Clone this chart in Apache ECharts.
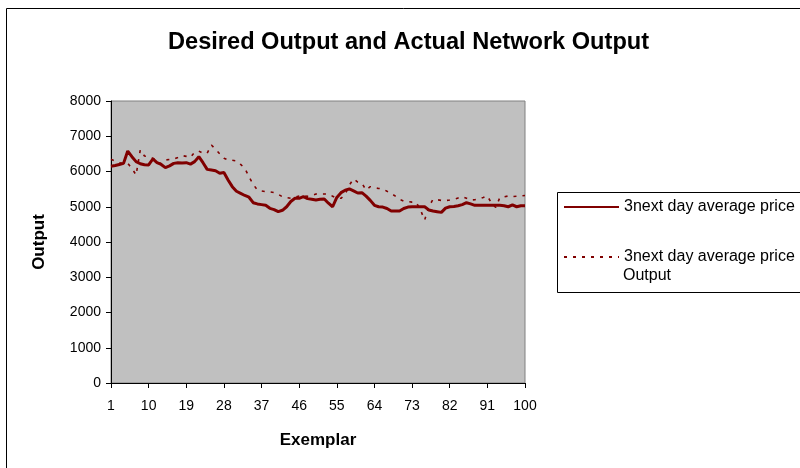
<!DOCTYPE html>
<html>
<head>
<meta charset="utf-8">
<script src="https://cdn.jsdelivr.net/npm/echarts@6/dist/echarts.min.js"></script>
<style>
  html, body { margin: 0; padding: 0; background: #fff; }
  #chart { width: 800px; height: 468px; }
</style>
</head>
<body>
<div id="chart"></div>
<script>
// exemplar numbers 1..100
let exemplars = []
for (let i = 1; i <= 100; i++) exemplars.push(String(i))

// desired output (solid)
let desired = [
  6150, 6170, 6200, 6230, 6580, 6420, 6280, 6220, 6190, 6185,
  6355, 6250, 6200, 6110, 6160, 6230, 6250, 6240, 6250, 6210,
  6280, 6420, 6250, 6060, 6040, 6020, 5950, 5970, 5760, 5570,
  5440, 5380, 5320, 5270, 5115, 5080, 5060, 5040, 4955, 4920,
  4860, 4900, 5000, 5150, 5240, 5240, 5285, 5230, 5210, 5190,
  5210, 5220, 5100, 5000, 5265, 5400, 5470, 5505, 5450, 5390,
  5400, 5300, 5180, 5040, 5000, 4990, 4950, 4880, 4880, 4880,
  4950, 4990, 5000, 5000, 5000, 5000, 4910, 4880, 4860, 4840,
  4960, 5000, 5010, 5030, 5060, 5115, 5080, 5040, 5040, 5040,
  5040, 5040, 5040, 5040, 5030, 5000, 5050, 5000, 5030, 5030
]

// actual network output (dotted)
let actual = [
  6345, 6300, 6250, 6230, 6230, 6090, 5900, 6610, 6440, 6420,
  6375, 6300, 6215, 6325, 6340, 6355, 6400, 6450, 6430, 6400,
  6545, 6580, 6515, 6520, 6750, 6630, 6500, 6375, 6325, 6320,
  6300, 6200, 6090, 5850, 5635, 5475, 5450, 5430, 5420, 5400,
  5350, 5285, 5260, 5240, 5270, 5305, 5310, 5300, 5320, 5360,
  5360, 5360, 5360, 5300, 5240, 5240, 5350, 5615, 5790, 5700,
  5665, 5475, 5570, 5540, 5520, 5505, 5440, 5380, 5300, 5210,
  5160, 5145, 5130, 5125, 4910, 4625, 5000, 5210, 5200, 5180,
  5175, 5190, 5210, 5250, 5285, 5240, 5190, 5200, 5220, 5260,
  5305, 5100, 4980, 5265, 5280, 5305, 5290, 5300, 5305, 5320
]

let seriesNames = ['3next day average price', '3next day average price Output']

let chart = echarts.init(document.getElementById('chart'))
let font = 'Arial, "Liberation Sans", sans-serif'
let option = {
  animation: false,
  textStyle: { fontFamily: font },
  title: {
    text: 'Desired Output and Actual Network Output',
    left: 163,
    top: 25,
    textStyle: { fontSize: 23.6, fontWeight: 'bold', color: '#000', fontFamily: font }
  },
  graphic: [
    // outer chart frame (runs off the page like the original)
    { type: 'rect', shape: { x: 6.5, y: 8.5, width: 900, height: 600 }, style: { fill: 'none', stroke: '#000', lineWidth: 1 }, silent: true },
    // legend frame
    { type: 'rect', shape: { x: 557.5, y: 192.5, width: 300, height: 100 }, style: { fill: '#fff', stroke: '#000', lineWidth: 1 }, z: 1, silent: true },
    { type: 'text', left: 623, top: 268, z: 10, style: { text: 'Output', fontSize: 16, fontFamily: font, fill: '#000' } }
  ],
  legend: [
    {
      data: [seriesNames[0]],
      left: 558, top: 194,
      itemWidth: 55, itemHeight: 14, itemGap: 0,
      itemStyle: { opacity: 0 },
      textStyle: { fontSize: 16, color: '#000', fontFamily: font },
      z: 5
    },
    {
      data: [seriesNames[1]],
      left: 558, top: 244,
      itemWidth: 55, itemHeight: 14,
      itemStyle: { opacity: 0 },
      formatter: () => '3next day average price',
      textStyle: { fontSize: 16, color: '#000', fontFamily: font },
      z: 5
    }
  ],
  grid: {
    left: 111, top: 101, right: 275, bottom: 85,
    show: true, backgroundColor: '#C0C0C0', borderColor: '#808080', borderWidth: 1
  },
  xAxis: {
    type: 'category',
    data: exemplars,
    boundaryGap: false,
    name: 'Exemplar',
    nameLocation: 'middle',
    nameGap: 49,
    nameTextStyle: { fontSize: 17, fontWeight: 'bold', color: '#000', fontFamily: font, letterSpacing: 2 },
    axisLine: { lineStyle: { color: '#000', width: 1 } },
    axisTick: { interval: 8, length: 5, lineStyle: { color: '#000' } },
    axisLabel: { interval: 8, fontSize: 14, color: '#000', margin: 16, fontFamily: font },
    splitLine: { show: false }
  },
  yAxis: {
    type: 'value',
    min: 0, max: 8000, interval: 1000,
    name: 'Output',
    nameLocation: 'middle',
    nameGap: 63,
    nameTextStyle: { fontSize: 17, fontWeight: 'bold', color: '#000', fontFamily: font, letterSpacing: 1.5 },
    axisLine: { show: true, lineStyle: { color: '#000', width: 1 } },
    axisTick: { show: true, length: 5, lineStyle: { color: '#000' } },
    axisLabel: { fontSize: 14, color: '#000', margin: 10, fontFamily: font, formatter: v => String(v) },
    splitLine: { show: false }
  },
  series: [
    {
      name: seriesNames[0],
      type: 'line',
      data: desired,
      symbol: 'none',
      lineStyle: { color: '#800000', width: 3 },
      itemStyle: { color: '#800000' }
    },
    {
      name: seriesNames[1],
      type: 'line',
      data: actual,
      symbol: 'none',
      lineStyle: { color: '#800000', width: 1.6, type: [3, 6] },
      itemStyle: { color: '#800000' }
    }
  ]
}
chart.setOption(option)
</script>
</body>
</html>
